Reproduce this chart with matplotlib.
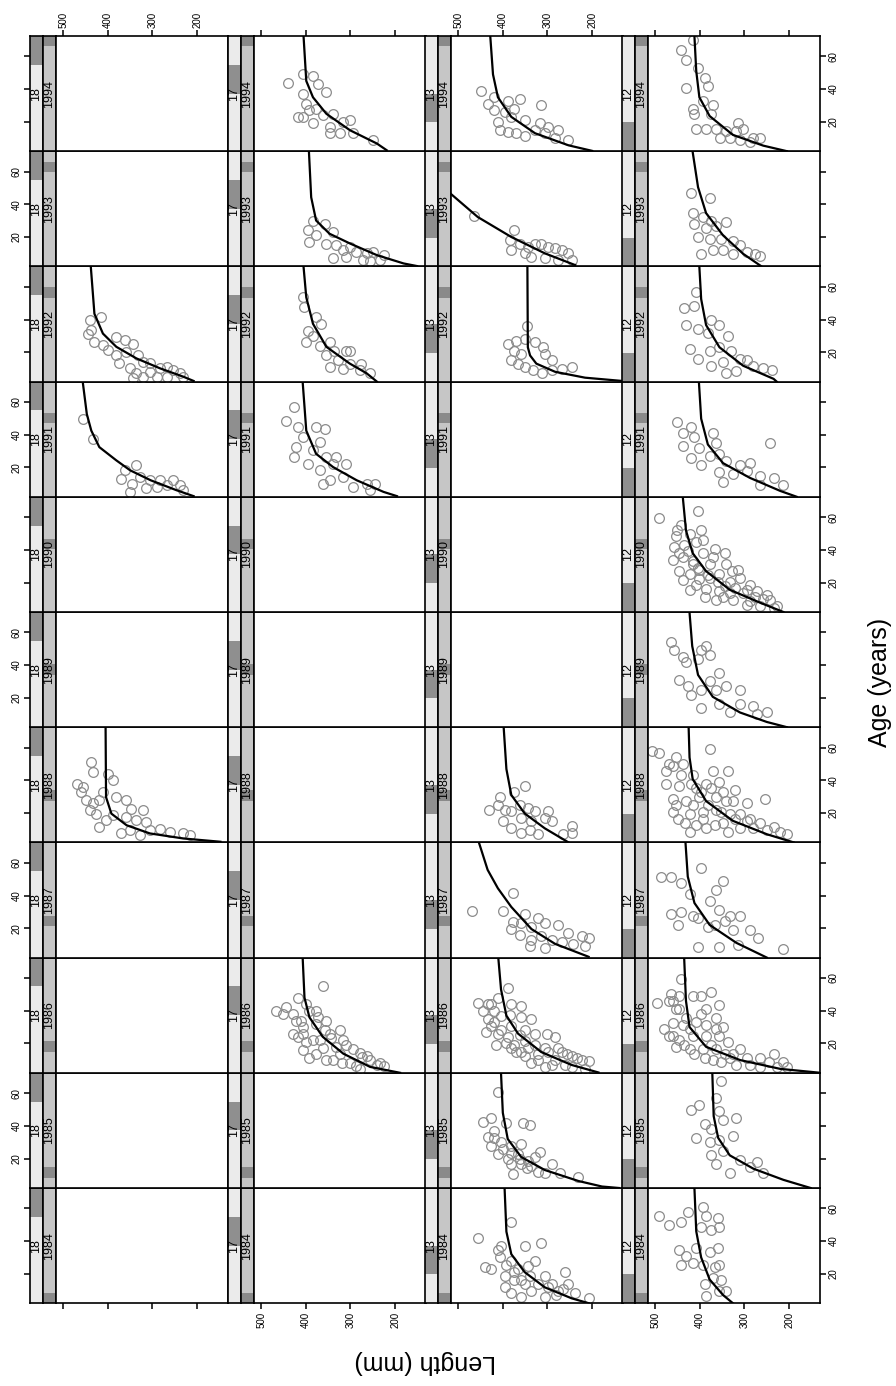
#!/usr/bin/env python3
"""
Length-at-age lattice: one panel per group and year, growth curve over the fish
(page turned on its side: Length runs right-to-left, Age runs upward)
"""

import matplotlib.pyplot as plt
from matplotlib.patches import Rectangle

plt.rcParams['font.family'] = ['Liberation Sans', 'DejaVu Sans']

groups = [18, 17, 13, 12]
group_levels = [12, 13, 17, 18]
years = [1984, 1985, 1986, 1987, 1988, 1989, 1990, 1991, 1992, 1993, 1994]
length_ticks = [500, 400, 300, 200]
age_ticks = [20, 40, 60]

p18_1988 = [(51,438),(45,434),(44,400),(40,389),(38,468),(36,456),(33,460),(33,411),(28,449),(26,434),
            (28,419),(30,381),(28,359),(22.7,348),(21.6,321),(19.6,426),(18.6,389),(17.6,359),(15.6,336),
            (14.6,314),(11.5,419),(7.5,370),(9.5,351),(9.5,306),(10.5,283),(8.5,261),(7.5,231),(6.5,216),
            (6.5,329),(15.6,404),(21.6,441)]
p18_1991 = [(49.6,456),(37.4,434),(21.2,336),(18.2,362),(13.1,370),(10.1,347),(14.2,329),(12.1,306),
            (12.1,283),(12.1,253),(9.1,238),(5.0,351),(8.1,291),(9.1,268),(7.1,314),(6.0,231)]
p18_1992 = [(39.5,441),(41.5,415),(33.4,438),(31.4,445),(26.3,430),(24.3,411),(29.3,381),(27.3,362),
            (25.3,344),(21.2,400),(18.2,381),(20.2,359),(18.2,332),(14.2,321),(13.1,306),(13.1,374),
            (10.1,351),(7.1,336),(8.1,306),(10.1,283),(11.1,268),(9.1,253),(7.1,238),(5.0,231),(5.0,321),
            (5.0,291),(5.0,268),(4.0,344)]

p17_1986 = [(55.3,362),(48,418),(42,444),(40,467),(38,452),(44,399),(40,377),(34,422),(30,407),(32,377),
            (34,354),(26,429),(22,384),(26,347),(28,324),(16,407),(17,362),(18,332),(19,309),(14,279),
            (12,264),(8,234),(6,226),(11,392),(8,302),(10,339),(6,287),
            (38,429),(34,410),(40,392),(36,373),(24,418),(21,399),(22,369),(23,343),(13.7,324),(22,316),
            (16.8,294),(11.7,275),(9.7,256),(6.7,241),(13.7,377),(9.7,354),(7.7,320),(4.6,279),(26,407),
            (28,358)]
p17_1991 = [(56.7,426),(48.6,444),(44.5,418),(44.5,377),(43.5,358),(38.5,407),(35.4,369),(32.4,422),
            (30.4,384),(26.3,354),(26.3,332),(26.3,426),(22.3,396),(18.2,369),(22.3,339),(22.3,309),
            (14.2,317),(12.1,347),(8.1,294),(10.1,264),(10.1,245),(6,256),(10.1,362)]
p17_1992 = [(53.6,407),(47.6,403),(41.5,377),(37.4,366),(33,395),(30,384),(26,399),(24,369),(26,347),
            (21,336),(21,309),(21,300),(18,354),(15,328),(13,302),(13,276),(10,317),(11,347),(9,279),(7,256)]
p17_1993 = [(30,384),(28,358),(24,395),(21,377),(17,392),(23,339),(16,354),(15,332),(12,317),(14,302),
            (11,287),(10,264),(11,249),(9,226),(6,234),(6,272),(8,309),(7,339),(5,257)]
p17_1994 = [(44,440),(49,407),(48,384),(43,373),(38,354),(37,407),(31,399),(27,392),(23,407),(28,377),
            (24,362),(25,339),(20,317),(21,300),(19,384),(17,347),(13,324),(13,294),(13,347),(9,249),(23,418)]

p13_1984 = [(42,456),(51.4,381),(39,314),(36.7,351),(24,441),(36.7,404),(30,407),(23,426),(27.6,381),
            (23,366),(25,344),(27.6,329),(18.5,396),(16,374),(14,351),(18.5,306),(14,291),(21,261),(14,253),
            (8,238),(5,208),(9.5,336),(6,306),(9.5,276),
            (34.4,411),(25.3,392),(20.8,374),(16.3,359),(18.5,340),(14,321),(11.7,298),(7.2,280),
            (10.6,265),(11.7,396),(8.3,381),(6.1,359)]
p13_1985 = [(60.7,411),(42.4,445),(44.8,426),(41.5,392),(41.5,355),(40.3,340),(33.5,434),(37,419),(28,426),
            (30,404),(28,381),(29,359),(23,411),(20,389),(23,366),(24,317),(16.5,359),(15.4,336),(16.5,291),
            (11,306),(11,272),(8.8,231),(16.5,381),
            (32.4,419),(25.6,400),(23.3,381),(19.9,362),(18.8,344),(21,329),(14.2,347),(10.8,377),(12,321)]
p13_1986 = [(54,389),(45,456),(44,434),(47.6,411),(44,381),(43,359),(35,336),(37.4,385),(36,359),(35,434),
            (33,419),(37,404),(27,437),(26,411),(24,389),(19,374),(21.5,351),(26,302),(24,283),(19,329),
            (17,306),(14.7,268),(12.4,246),(12.4,351),(10,321),(10,283),(10,223),(9,208),(17,381),(6.8,261),
            (5.6,306),(14.7,359),(39.6,419),(4.5,216),
            (39.6,445),(30.6,426),(28.3,404),(30.6,381),(24.9,362),(20.4,392),(14.7,370),(17,344),
            (13.6,321),(14.7,298),(17,276),(13.6,257),(11.3,235),(7.9,336),(6.8,291),(5.6,246),(28.3,351),
            (26,329),(19.2,415),(44.2,426)]
p13_1987 = [(30.8,468),(41.7,377),(30.8,400),(24,377),(28.5,351),(26,321),(23,359),(20.6,336),(23,306),
            (21.7,276),(17,253),(15,223),(14,208),(19.5,381),(16,362),(12.7,336),(15,314),(12.7,291),
            (11.5,268),(10.4,242),(9.3,216),(9.3,340),(8,306)]
p13_1988 = [(36.7,351),(30,407),(33,374),(22,430),(25,411),(22,396),(25,362),(23,344),(21,329),(21,298),
            (15,400),(21,381),(17,359),(15,336),(17,306),(15,291),(8,359),(9.5,340),(7,321),(7,265),
            (12,246),(8,246),(10.6,381)]
p13_1992 = [(36,345),(25,389),(27,370),(28,351),(26,329),(23,310),(19,306),(15,291),(15,381),(13,366),
            (11,351),(9,332),(7,313),(9,291),(10,268),(11,246),(19,359),(21,374)]
p13_1993 = [(33,464),(24,374),(18,385),(12,381),(16,362),(14,344),(16,329),(16,314),(14,298),(13,283),
            (12,268),(10,253),(6,246),(8,336),(7,306),(6,276),(10,351)]
p13_1994 = [(39,449),(35,419),(33,389),(34,362),(30,314),(31,434),(27,419),(26,396),(28,374),(21,351),
            (20,411),(15,407),(14,389),(13,370),(11,351),(19,317),(17,298),(15,276),(13,306),(10,283),
            (9,253),(15,329),(23,381)]

p12_1984 = [(55.6,491),(50,468),(51.6,442),(58,427),(61,393),(55.6,386),(54,359),(48.5,397),(47,374),
            (48.5,356),(34.7,446),(30.8,431),(36,408),(33.4,378),(36,359),(25.3,442),(26.6,416),(25.3,393),
            (25.3,356),(17.3,371),(16,352),(14,389),(9.3,356),(9.3,341),(6.6,386),(24,367)]
p12_1985 = [(67.7,352),(50,419),(53,401),(57,363),(49,356),(43.5,348),(41,389),(38,374),(44.8,318),
            (32.7,408),(30,378),(31.4,356),(34,326),(22,374),(24.6,348),(11,333),(19,310),(15,288),
            (17.9,273),(11,258),(16.5,363)]
p12_1986 = [(59.6,442),(50,465),(44.8,495),(28.7,480),(46,461),(40.8,446),(48.9,416),(51.6,374),
            (43.5,356),(32.7,461),(31.4,438),(38,397),(31.4,386),(28.7,363),(24.6,468),(22,446),(24.6,416),
            (24.6,386),(24.6,356),(20.6,337),(17.9,453),(16.5,423),(16.5,393),(16.5,363),(13.8,344),
            (13.8,326),(16.5,310),(11,295),(11,265),(13.8,235),(8.5,213),(9.8,371),
            (46,468),(41,453),(35.4,431),(33,408),(41,386),(35.4,363),(30,348),(24.6,461),(19.2,435),
            (13.8,412),(11,389),(19.2,374),(8.5,352),(11,333),(7,318),(7,288),(5.8,265),(8.5,246),
            (5.8,228),(5.8,205),(48.9,446),(48.9,397),(29,423)]
p12_1987 = [(51.6,487),(51.6,465),(57,397),(47.5,442),(40.8,423),(48.8,348),(43.5,363),(36.7,378),
            (28.7,465),(30,442),(27.3,416),(22,449),(26,404),(31,356),(27.3,333),(27.3,310),(20.6,382),
            (22,367),(24.6,344),(8.5,404),(8.5,356),(19,288),(13.8,269),(9.8,314),(7,213),(19,326)]
p12_1988 = [(58,506),(57,491),(54,453),(59,378),(46,476),(49,461),(50,438),(43.5,416),(46,371),(46,337),
            (38,476),(36.5,446),(35,408),(38,386),(39,356),(34,322),(28.7,461),(27.3,431),(30,401),(30,363),
            (27.3,341),(26,295),(28.7,254),(20.6,461),(19.2,423),(20.6,393),(22,363),(19.2,333),(19.2,310),
            (14,434),(12.5,408),(11,386),(8.5,423),(14,348),(11,310),(11,280),(9.8,250),(8.5,220),(16.5,288),
            (50.2,468),(43.5,442),(38,419),(32.7,397),(35.4,374),(32.7,348),(27.3,325),(24.6,453),
            (24.6,416),(24.6,382),(20.6,352),(16.5,322),(15.2,295),(13.8,265),(11.2,235),(7.1,205),
            (16.5,449),(12.5,367),(8.5,337),(16.5,393)]
p12_1989 = [(54,465),(49,457),(45,438),(42,431),(49,397),(51.6,386),(46,378),(43.6,404),(31,446),(27,427),
            (22,420),(24.6,397),(30,378),(35,356),(27,341),(24.6,310),(24.6,363),(14,397),(16.5,356),
            (11,333),(16.5,310),(15,280),(11,250),(9.8,273)]
p12_1990 = [(59.8,491),(64,404),(55,442),(51.9,397),(48.5,453),(49.6,423),(41.6,457),(42.7,435),(45,408),
            (46,393),(35.8,438),(33.5,416),(38,393),(35.8,371),(31.5,341),(28,314),(27,446),(25,423),
            (28,401),(22.8,378),(25,356),(20.5,333),(22.8,310),(18.3,288),(21.7,438),(18.3,408),(16,386),
            (15,356),(13.8,333),(13.8,303),(15,273),(12.7,250),(9.3,243),(9.3,363),(9.3,326),(6.5,295),
            (5.4,265),(4.3,235),(31.3,416),(31.3,378),(34,461),
            (51.9,450),(39.4,427),(29.2,404),(24.7,382),(20.1,359),(17.9,344),(16.7,322),(15.6,295),
            (11.1,277),(9.9,258),(11.1,348),(11.1,389),(15.6,423),(38.3,446),(40.5,367),(38.3,344),
            (27,329),(22.4,401),(8.8,288),(5.4,228)]
p12_1991 = [(47.6,450),(45,420),(40.8,438),(38.5,412),(40.8,371),(35,363),(35,243),(32.8,438),(31.7,401),
            (26,420),(21.5,397),(27,378),(28.3,356),(23.8,341),(21.5,310),(22.6,288),(16.9,356),(15.8,326),
            (18,295),(14.7,265),(13.6,235),(9,213),(11.3,348),(9,265)]
p12_1992 = [(57,408),(46.8,435),(48,412),(40,374),(36.6,431),(34,404),(32,382),(36.6,356),(30,337),
            (22,423),(16,404),(20.7,378),(23,356),(20.7,330),(16,310),(11.7,374),(14,348),(15,295),
            (11.7,280),(10.5,258),(9.4,239),(8.3,318),(7,341)]
p12_1993 = [(47,420),(44,378),(34.6,416),(32,393),(30,374),(29,341),(28,412),(25.6,386),(26.7,363),
            (20,404),(18.8,378),(18.8,352),(17.6,326),(15,310),(9.7,397),(12,371),(12,348),(9.7,326),
            (10.8,295),(9.7,277),(8.6,265)]
p12_1994 = [(70,416),(64,442),(58,431),(53,404),(47,389),(41.7,382),(40.5,431),(30.3,371),(32.6,393),
            (28,416),(24.7,412),(24.7,374),(19,314),(15.6,408),(15.6,386),(15.6,363),(14.5,341),(14.5,318),
            (15.6,303),(10,280),(10,265),(10,355),(10,333),(9,310),(7.7,288)]

# fitted growth curves (age, length)
c18_1988 = [(2.4,148),(4.4,231),(7.5,306),(12.5,358),(19.6,392),(29.7,404),(72,405)]
c18_1991 = [(2.4,208),(6,246),(12.1,304),(18.2,350),(24.3,381),(32.4,419),(42.5,437),(52.6,447),(72,456)]
c18_1992 = [(2.4,208),(5,231),(10.1,283),(16.2,336),(23.3,381),(31.4,411),(43.5,430),(72,438)]
c17_1986 = [(2,189),(5.6,256),(13.7,316),(24,362),(36,392),(48,403),(72,407)]
c17_1991 = [(2.4,196),(5,226),(12.1,286),(20.2,339),(28.3,377),(42.5,399),(72,407)]
c17_1992 = [(2,241),(7.1,264),(13.1,302),(23.3,354),(37.4,384),(53.6,399),(72,405)]
c17_1993 = [(2.2,151),(3.8,181),(8.9,241),(16,301),(22,347),(30.1,377),(44.3,388),(72,393)]
c17_1994 = [(2.6,219),(6.7,241),(14.8,301),(24.9,354),(35,384),(45,399),(72,405)]
c13_1984 = [(2,208),(5,246),(11.7,306),(21,351),(32,381),(45.8,392),(72,396)]
c13_1985 = [(2,140),(2.9,178),(6.3,231),(13,306),(21,359),(32,389),(48,400),(72,404)]
c13_1986 = [(2.2,186),(6.8,246),(14.7,314),(26,366),(37,392),(53,404),(72,410)]
c13_1987 = [(2.5,208),(10.4,283),(19.5,336),(33,381),(44.4,411),(55.7,434),(72,453)]
c13_1988 = [(2,253),(10.6,306),(19.7,351),(31,381),(46.9,392),(72,398)]
c13_1992 = [(2.4,133),(4.4,216),(8,283),(13,325),(18,339),(23,344),(72,345)]
c13_1993 = [(2.8,238),(10,306),(20,381),(32.2,456),(46.3,516),(72,600)]
c13_1994 = [(2.2,200),(5.6,253),(13,328),(23,381),(35,411),(49,422),(72,428)]
c12_1984 = [(2,326),(7,348),(16.5,378),(30,397),(46,408),(72,412)]
c12_1985 = [(2,152),(7,213),(13.8,280),(22,333),(32.7,359),(46,369),(72,372)]
c12_1986 = [(2,130),(4.4,220),(9.8,310),(17.9,386),(30,423),(46,431),(72,435)]
c12_1987 = [(2,250),(11,318),(22,378),(35.4,412),(51.6,427),(72,432)]
c12_1988 = [(2,190),(7,250),(15.2,326),(27.3,386),(40.8,416),(54,423),(72,425)]
c12_1989 = [(2,205),(5.2,250),(11,310),(20.6,371),(34,404),(51.6,417),(72,423)]
c12_1990 = [(2,213),(7.7,265),(15.6,333),(27,386),(38,416),(51.9,431),(72,438)]
c12_1991 = [(2,183),(5.6,220),(13.6,288),(22.6,348),(34,382),(49.8,397),(72,402)]
c12_1992 = [(2,228),(3.7,235),(11.7,303),(23,356),(36.6,386),(52.5,397),(72,401)]
c12_1993 = [(2,262),(9.7,303),(21,348),(34.6,386),(50.5,404),(72,416)]
c12_1994 = [(2,205),(5.4,258),(12,326),(23.5,378),(35,401),(51,408),(72,412)]

panels = {
    (18, 1988): (p18_1988, c18_1988), (18, 1991): (p18_1991, c18_1991), (18, 1992): (p18_1992, c18_1992),
    (17, 1986): (p17_1986, c17_1986), (17, 1991): (p17_1991, c17_1991), (17, 1992): (p17_1992, c17_1992),
    (17, 1993): (p17_1993, c17_1993), (17, 1994): (p17_1994, c17_1994),
    (13, 1984): (p13_1984, c13_1984), (13, 1985): (p13_1985, c13_1985), (13, 1986): (p13_1986, c13_1986),
    (13, 1987): (p13_1987, c13_1987), (13, 1988): (p13_1988, c13_1988), (13, 1992): (p13_1992, c13_1992),
    (13, 1993): (p13_1993, c13_1993), (13, 1994): (p13_1994, c13_1994),
    (12, 1984): (p12_1984, c12_1984), (12, 1985): (p12_1985, c12_1985), (12, 1986): (p12_1986, c12_1986),
    (12, 1987): (p12_1987, c12_1987), (12, 1988): (p12_1988, c12_1988), (12, 1989): (p12_1989, c12_1989),
    (12, 1990): (p12_1990, c12_1990), (12, 1991): (p12_1991, c12_1991), (12, 1992): (p12_1992, c12_1992),
    (12, 1993): (p12_1993, c12_1993), (12, 1994): (p12_1994, c12_1994),
}

W, H = 896, 1386
COL_LEFT = [56, 254, 451, 648]
PANEL_W, PANEL_H, STRIP_W, TOP = 172, 115.2, 13, 36
LEN_LIM = (516, 131)
AGE_LIM = (2, 72.5)


def rect(x, y, w, h):
    return [x / W, 1 - (y + h) / H, w / W, h / H]


def draw_strip(ax, label, level, nlev, bg, fg, size):
    ax.set_facecolor(bg)
    ax.add_patch(Rectangle((0, level / nlev), 1, 1 / nlev, transform=ax.transAxes,
                           facecolor=fg, edgecolor='none'))
    ax.text(0.5, 0.5, label, transform=ax.transAxes, rotation=90, ha='center', va='center',
            fontsize=size, color='black')
    ax.set_xticks([])
    for sp in ax.spines.values():
        sp.set_linewidth(1.2)


def create_visualization():
    fig = plt.figure(figsize=(W / 100, H / 100), dpi=100)
    tick_kw = dict(direction='out', length=4, width=1.1, labelsize=7, pad=2)

    for ci, g in enumerate(groups):
        for yr in years:
            top = TOP + (1994 - yr) * PANEL_H
            odd_row = (yr - 1984) % 2 == 1
            x0 = COL_LEFT[ci]

            # strips on the left of each panel: group (outer), year (inner)
            axo = fig.add_axes(rect(x0 - 2 * STRIP_W, top, STRIP_W, PANEL_H))
            axo.set_ylim(*AGE_LIM)
            draw_strip(axo, str(g), group_levels.index(g), len(group_levels), '#ebebeb', '#8f8f8f', 9)
            if ci == 0:
                axo.set_yticks(age_ticks)
                axo.tick_params(axis='y', left=True, labelleft=odd_row, labelrotation=90, **tick_kw)
                for lab in axo.get_yticklabels():
                    lab.set_va('center')
            else:
                axo.set_yticks([])

            axi = fig.add_axes(rect(x0 - STRIP_W, top, STRIP_W, PANEL_H))
            draw_strip(axi, str(yr), years.index(yr), len(years), '#c6c6c6', '#8a8a8a', 9)
            axi.set_yticks([])

            ax = fig.add_axes(rect(x0, top, PANEL_W, PANEL_H))
            ax.set_xlim(*LEN_LIM)
            ax.set_ylim(*AGE_LIM)
            for sp in ax.spines.values():
                sp.set_linewidth(1.2)

            ax.set_xticks(length_ticks)
            ax.tick_params(axis='x', top=(yr == 1994), bottom=(yr == 1984),
                           labeltop=(yr == 1994 and ci in (0, 2)),
                           labelbottom=(yr == 1984 and ci in (1, 3)),
                           labelrotation=90, **tick_kw)
            ax.set_yticks(age_ticks)
            ax.tick_params(axis='y', left=False, labelleft=False, right=(ci == 3),
                           labelright=(ci == 3 and not odd_row), labelrotation=90, **tick_kw)
            for lab in ax.get_yticklabels():
                lab.set_va('center')

            if (g, yr) in panels:
                pts, crv = panels[(g, yr)]
                ax.plot([p[1] for p in pts], [p[0] for p in pts], linestyle='none', marker='o',
                        markersize=7, markerfacecolor='none', markeredgecolor='#8c8c8c',
                        markeredgewidth=0.9)
                ax.plot([c[1] for c in crv], [c[0] for c in crv], color='black', linewidth=1.6)

    fig.text(880 / W, 1 - 682 / H, 'Age (years)', rotation=90, ha='center', va='center', fontsize=18)
    fig.text(425 / W, 1 - 1362 / H, 'Length (mm)', rotation=180, ha='center', va='center', fontsize=18)

    fig.savefig('out.png', dpi=100, facecolor='white')
    plt.close(fig)


if __name__ == "__main__":
    create_visualization()
